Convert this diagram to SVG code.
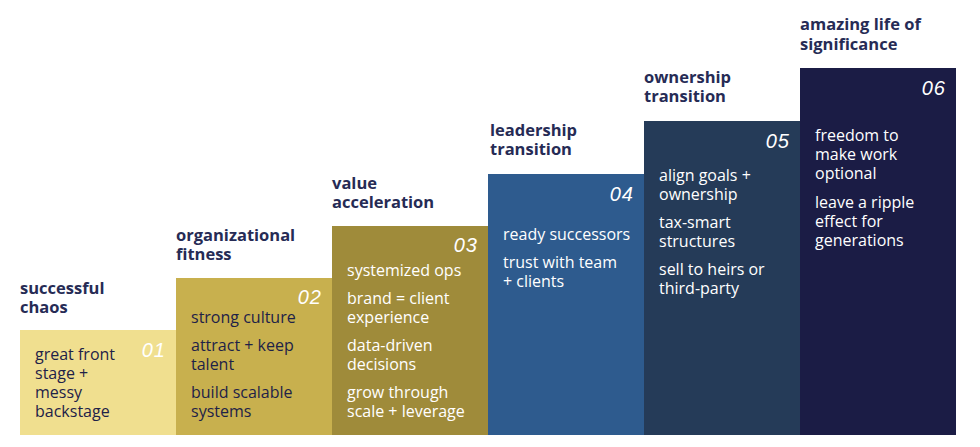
<svg xmlns="http://www.w3.org/2000/svg" width="980" height="447" viewBox="0 0 980 447">
<style>
.t{font-family:"Open Sans","Noto Sans",sans-serif;font-weight:700;font-size:16.5px;fill:#262b55}
.b{font-family:"Open Sans","Noto Sans",sans-serif;font-size:16px;fill:#fff}
.d{fill:#1e2248}
.n{font-family:"Liberation Sans",sans-serif;font-size:20px;fill:#fff;font-style:italic;text-anchor:end;letter-spacing:1px}
</style>
<rect width="980" height="447" fill="#fff"/>
<g id="step1"><rect x="20" y="330" width="156" height="105" fill="#f0df8f"/>
<text class="t" x="20" y="294">successful</text><text class="t" x="20" y="313">chaos</text>
<text class="n" x="166" y="357">01</text>
<text class="b d" x="35" y="360">great front</text><text class="b d" x="35" y="379">stage +</text><text class="b d" x="35" y="398">messy</text><text class="b d" x="35" y="417">backstage</text></g>
<g id="step2"><rect x="176" y="278" width="156" height="157" fill="#c8b04e"/>
<text class="t" x="176" y="241">organizational</text><text class="t" x="176" y="260">fitness</text>
<text class="n" x="322" y="304">02</text>
<text class="b d" x="191" y="323">strong culture</text><text class="b d" x="191" y="351">attract + keep</text><text class="b d" x="191" y="370">talent</text><text class="b d" x="191" y="398">build scalable</text><text class="b d" x="191" y="417">systems</text></g>
<g id="step3"><rect x="332" y="226" width="156" height="209" fill="#9f8b3a"/>
<text class="t" x="332" y="189">value</text><text class="t" x="332" y="208">acceleration</text>
<text class="n" x="478" y="252">03</text>
<text class="b" x="347" y="276">systemized ops</text><text class="b" x="347" y="304">brand = client</text><text class="b" x="347" y="323">experience</text><text class="b" x="347" y="351">data-driven</text><text class="b" x="347" y="370">decisions</text><text class="b" x="347" y="398">grow through</text><text class="b" x="347" y="417">scale + leverage</text></g>
<g id="step4"><rect x="488" y="174" width="156" height="261" fill="#2e5b8e"/>
<text class="t" x="490" y="136">leadership</text><text class="t" x="490" y="155">transition</text>
<text class="n" x="634" y="201">04</text>
<text class="b" x="503" y="240">ready successors</text><text class="b" x="503" y="268">trust with team</text><text class="b" x="503" y="287">+ clients</text></g>
<g id="step5"><rect x="644" y="121" width="156" height="314" fill="#253b58"/>
<text class="t" x="644" y="83">ownership</text><text class="t" x="644" y="102">transition</text>
<text class="n" x="790" y="148">05</text>
<text class="b" x="659" y="181">align goals +</text><text class="b" x="659" y="200">ownership</text><text class="b" x="659" y="228">tax-smart</text><text class="b" x="659" y="247">structures</text><text class="b" x="659" y="275">sell to heirs or</text><text class="b" x="659" y="294">third-party</text></g>
<g id="step6"><rect x="800" y="68" width="156" height="367" fill="#1b1c45"/>
<text class="t" x="800" y="30">amazing life of</text><text class="t" x="800" y="50">significance</text>
<text class="n" x="946" y="95">06</text>
<text class="b" x="815" y="141">freedom to</text><text class="b" x="815" y="160">make work</text><text class="b" x="815" y="179">optional</text><text class="b" x="815" y="208">leave a ripple</text><text class="b" x="815" y="227">effect for</text><text class="b" x="815" y="246">generations</text></g>
<g id="connectors"/>
</svg>
